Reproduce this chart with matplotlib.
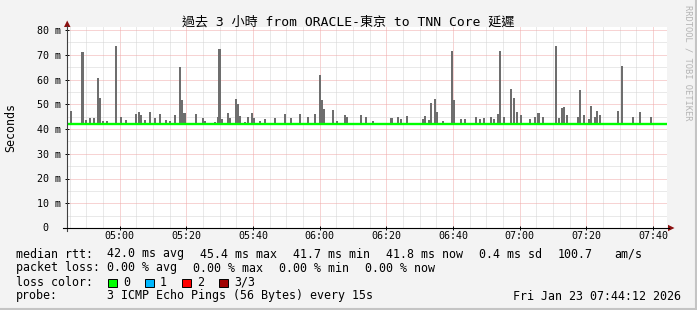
import numpy as np
import matplotlib
matplotlib.use("Agg")
import matplotlib.pyplot as plt
from matplotlib.patches import Rectangle, Polygon
from matplotlib.lines import Line2D

# ---------------- data ----------------
title = "過去 3 小時 from ORACLE-東京 to TNN Core 延遲"
start_min = 4 * 60 + 44 + 12 / 60.0   # 04:44:12
span_min = 180

# smoke peaks (minutes after start, max rtt in ms)
spike_offset = [1.2, 4.65, 5.7, 6.9, 8.1, 9.3, 9.9, 10.8, 12.0, 14.7, 16.2, 17.7, 20.7, 21.6, 22.2,
                23.4, 24.9, 26.4, 27.9, 29.7, 30.9, 32.4, 33.9, 34.5, 35.25, 38.7, 40.8, 41.4, 44.4,
                45.3, 45.75, 46.5, 48.3, 48.9, 50.7, 51.15, 51.9, 53.4, 54.3, 55.5, 55.95, 57.9, 59.4,
                62.4, 65.4, 67.2, 69.9, 72.3, 74.4, 75.9, 76.5, 76.95, 79.8, 81.0, 83.4, 84.0, 88.2,
                89.7, 91.8, 97.35, 99.3, 100.2, 102.0, 106.8, 107.4, 108.6, 109.2, 110.4, 111.0, 112.8,
                115.5, 116.1, 118.2, 119.4, 122.7, 123.9, 125.1, 127.2, 128.1, 129.3, 129.9, 131.1,
                133.2, 134.1, 135.0, 136.2, 138.9, 140.4, 141.45, 142.8, 146.7, 147.6, 148.5, 149.1,
                150.0, 153.3, 153.9, 155.1, 156.6, 157.2, 158.4, 159.0, 159.9, 165.3, 166.5, 169.8,
                171.9, 175.2]
spike_max = [47.3, 71.2, 43.5, 44.6, 44.6, 60.7, 52.6, 43.3, 43.3, 73.7, 45.0, 43.6, 46.1, 47.0, 45.5,
             43.5, 47.0, 44.5, 46.1, 43.6, 43.2, 45.6, 65.0, 51.7, 46.3, 46.0, 44.5, 43.2, 42.9,
             45.0, 72.3, 44.0, 46.4, 44.6, 52.1, 50.1, 45.2, 43.0, 45.0, 46.3, 44.4, 43.2, 44.0,
             44.6, 45.9, 44.6, 46.0, 45.0, 46.0, 61.8, 51.7, 48.0, 47.7, 43.2, 45.6, 45.0, 45.6,
             45.0, 43.2, 44.6, 45.0, 44.2, 45.3, 44.2, 45.2, 43.6, 50.4, 52.1, 46.7, 43.2,
             71.5, 51.7, 44.2, 44.0, 44.7, 44.0, 44.3, 44.9, 44.0, 46.1, 71.6, 44.9,
             56.2, 52.7, 47.0, 45.6, 44.1, 44.7, 46.3, 44.7, 73.5, 44.3, 48.4, 49.0,
             45.5, 44.7, 55.8, 45.6, 44.1, 49.4, 44.7, 47.4, 45.5, 47.4, 65.4, 44.7,
             47.0, 44.7]

# median rtt every 3 minutes
median_step = 3
median_rtt = [42.0, 42.1, 41.9, 42.0, 42.2, 41.9, 42.0, 42.0, 41.9, 42.0,
              42.1, 42.0, 41.9, 42.0, 42.0, 42.1, 41.9, 42.0, 42.0, 41.9,
              42.0, 42.1, 42.0, 41.9, 42.0, 42.0, 42.0, 41.9, 42.0, 42.1,
              42.0, 42.0, 41.9, 42.0, 42.0, 42.1, 42.0, 41.9, 42.0, 42.0,
              41.9, 42.0, 42.0, 42.1, 41.9, 42.0, 42.0, 42.0, 41.9, 42.1,
              42.0, 41.9, 42.0, 42.0, 42.1, 42.0, 41.9, 42.0, 42.0, 41.9, 41.9]

x_tick_labels = ["05:00", "05:20", "05:40", "06:00", "06:20", "06:40", "07:00", "07:20", "07:40"]
y_ticks = [0, 10, 20, 30, 40, 50, 60, 70, 80]
y_tick_labels = ["0", "10 m", "20 m", "30 m", "40 m", "50 m", "60 m", "70 m", "80 m"]

legend_rtt = ["42.0 ms avg", "45.4 ms max", "41.7 ms min", "41.8 ms now", "0.4 ms sd", "100.7", "am/s"]
legend_loss = ["0.00 % avg", "0.00 % max", "0.00 % min", "0.00 % now"]
loss_labels = ["0", "1", "2", "3/3"]
loss_colors = ["#00ff00", "#00b8ff", "#ff0000", "#a00000"]
probe_text = "3 ICMP Echo Pings (56 Bytes) every 15s"
stamp_text = "Fri Jan 23 07:44:12 2026"

# ---------------- layout ----------------
W, H = 697, 310
MONO = "DejaVu Sans Mono"
plt.rcParams["font.family"] = [MONO, "Noto Sans CJK TC"]

fig = plt.figure(figsize=(W / 100, H / 100), dpi=100)
fig.patch.set_facecolor("#f3f3f3")


def fx(x):
    return x / W


def fy(y):
    return 1 - y / H


left_px, right_px, top_px, bot_px = 67, 667, 27, 228
ymax = 80 * (bot_px - top_px) / (bot_px - 30)
ax = fig.add_axes([fx(left_px), fy(bot_px), (right_px - left_px) / W, (bot_px - top_px) / H])
ax.set_facecolor("white")
ax.set_xlim(start_min, start_min + span_min)
ax.set_ylim(0, ymax)
for s in ax.spines.values():
    s.set_visible(False)

# grid
end_min = start_min + span_min
g = int(np.ceil(start_min / 5.0)) * 5
while g <= end_min:
    major = (g % 20 == 0)
    ax.axvline(g, color="#f0a8a8" if major else "#d4d4d4", lw=0.72,
               dashes=(1, 1), zorder=1)
    g += 5
for yv in range(5, 81, 5):
    major = (yv % 10 == 0)
    ax.axhline(yv, color="#f0a8a8" if major else "#d4d4d4", lw=0.72,
               dashes=(1, 1), zorder=1)

# smoke
med_t = start_min + np.arange(len(median_rtt)) * median_step
sp_t = start_min + np.array(spike_offset)
sp_base = np.interp(sp_t, med_t, median_rtt)
ax.bar(sp_t, np.array(spike_max) - sp_base, bottom=sp_base, width=0.75,
       color="#6e6e6e", linewidth=0, zorder=2, align="center")

# median line
ax.step(med_t, median_rtt, where="post", color="#00ff00", lw=1.7, zorder=3)

# ticks
x_tick_pos = [int(s[:2]) * 60 + int(s[3:]) for s in x_tick_labels]
ax.set_xticks(x_tick_pos)
ax.set_xticklabels(x_tick_labels, fontsize=7.2, family=MONO)
ax.set_yticks(y_ticks)
ax.set_yticklabels([("" if v == 0 else s) for v, s in zip(y_ticks, y_tick_labels)],
                   fontsize=7.2, family=MONO)
ax.tick_params(axis="both", length=3, width=0.7, direction="inout", color="black")
ax.tick_params(axis="x", pad=0.5)
ax.tick_params(axis="y", pad=3)
fig.text(fx(48), fy(bot_px), y_tick_labels[0], ha="right", va="center", fontsize=7.2,
         family=MONO)

# axis lines
fig.add_artist(Line2D([fx(left_px), fx(left_px)], [fy(26), fy(231)], color="#404040", lw=0.8))
fig.add_artist(Line2D([fx(63), fx(669)], [fy(bot_px), fy(bot_px)], color="black", lw=0.8))
arrow_col = "#8b1010"
fig.add_artist(Polygon([[fx(64), fy(27)], [fx(70.5), fy(27)], [fx(67.2), fy(20.5)]],
                       closed=True, color=arrow_col, lw=0))
fig.add_artist(Polygon([[fx(668), fy(224.8)], [fx(668), fy(231.2)], [fx(674.5), fy(228)]],
                       closed=True, color=arrow_col, lw=0))

# y label
fig.text(fx(10.5), fy(128), "Seconds", rotation=90, ha="center", va="center", fontsize=8.4,
         family=MONO)

# title
fig.text(fx(348.5), fy(22), title, ha="center", va="center", fontsize=9.4,
         family=[MONO, "Noto Sans CJK TC"])

# watermark
fig.text(fx(688), fy(5), "RRDTOOL / TOBI OETIKER", rotation=270, ha="center", va="top",
         fontsize=6.3, family=MONO, color="#b4b4b4")

# legend
FS = 8.4
y1, y2, y3, y4 = 254, 268, 282, 296
fig.text(fx(16), fy(y1), "median rtt:", ha="left", va="center", fontsize=FS, family=MONO)
for x, s in zip([107, 200, 293, 386, 479, 558, 614], legend_rtt):
    fig.text(fx(x), fy(y1), s, ha="left", va="center", fontsize=FS, family=MONO)
fig.text(fx(16), fy(y2), "packet loss:", ha="left", va="center", fontsize=FS, family=MONO)
for x, s in zip([107, 193, 279, 365], legend_loss):
    fig.text(fx(x), fy(y2), s, ha="left", va="center", fontsize=FS, family=MONO)
fig.text(fx(16), fy(y3), "loss color:", ha="left", va="center", fontsize=FS, family=MONO)
for bx, lab, col in zip([108, 145, 182, 219], loss_labels, loss_colors):
    fig.add_artist(Rectangle((fx(bx), fy(287)), 8.5 / W, 8.5 / H, facecolor=col,
                             edgecolor="black", lw=0.7, transform=fig.transFigure))
    fig.text(fx(bx + 15), fy(y3), lab, ha="left", va="center", fontsize=FS, family=MONO)
fig.text(fx(16), fy(y4), "probe:", ha="left", va="center", fontsize=FS, family=MONO)
fig.text(fx(107), fy(y4), probe_text, ha="left", va="center", fontsize=FS, family=MONO)
fig.text(fx(681), fy(y4), stamp_text, ha="right", va="center", fontsize=FS, family=MONO)

# frame
fig.add_artist(Line2D([fx(695.5), fx(695.5)], [0, 1], color="#c4c4c4", lw=1.5))
fig.add_artist(Line2D([0, 1], [fy(308.5), fy(308.5)], color="#c4c4c4", lw=1.5))

fig.savefig("out.png", dpi=100, facecolor=fig.get_facecolor())
